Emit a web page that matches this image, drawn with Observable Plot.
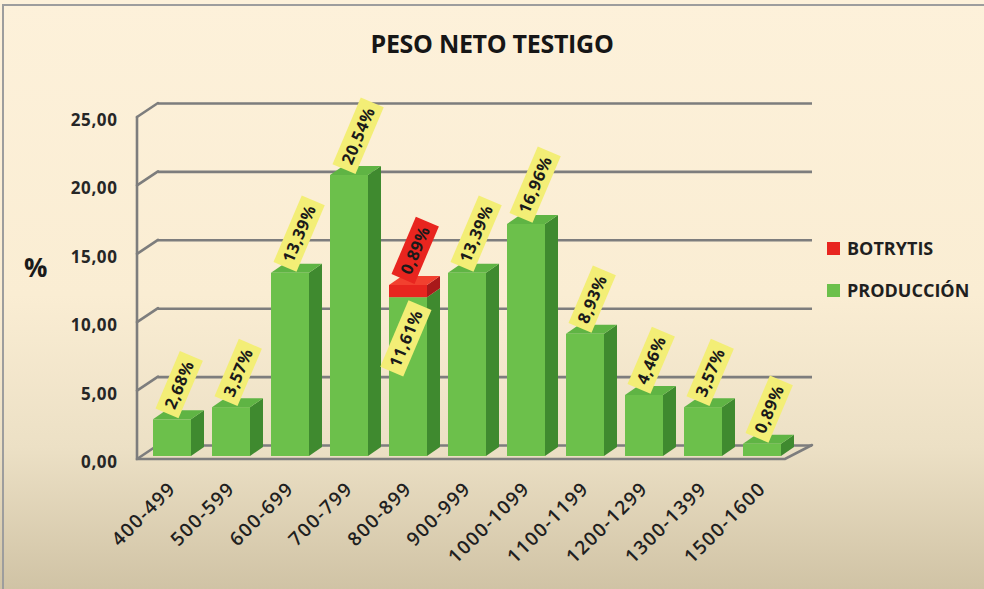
<!DOCTYPE html>
<html>
<head>
<meta charset="utf-8">
<script src="https://cdn.jsdelivr.net/npm/d3@7"></script>
<script src="https://cdn.jsdelivr.net/npm/@observablehq/plot@0.6"></script>
<style>
html, body { margin: 0; padding: 0; }
body { width: 984px; height: 589px; overflow: hidden; font-family: "Open Sans", sans-serif; }
#wrap { position: relative; width: 984px; height: 589px;
  background: linear-gradient(to bottom, #fdf1da 0%, #faedd3 50%, #ece0c5 76%, #d0c3a5 100%); }
#frame { position: absolute; left: 2px; top: 4px; right: 0; bottom: 0; border-top: 2px solid #9d9d9d; border-left: 2px solid #9d9d9d; pointer-events: none; }
#chart { position: absolute; left: 0; top: 0; }
#title { position: absolute; left: 0; width: 984px; top: 31px; line-height: 25px; text-align: center;
  font-weight: 700; font-size: 25px; color: #161616; letter-spacing: -0.3px; }
#ylab { position: absolute; left: 24px; top: 254px; line-height: 26px; font-size: 26px; font-weight: 700; color: #1a1a1a; }
.leg { position: absolute; left: 827px; height: 18px; }
.leg .sw { position: absolute; left: 0; width: 13px; height: 13px; }
.leg .tx { position: absolute; left: 20px; top: -3px; line-height: 18px; font-size: 18px; font-weight: 700; color: #1f1f1f; white-space: nowrap; }
svg g[aria-label="x-axis tick label"] text { letter-spacing: 1.4px; }
svg g[aria-label="y-axis tick label"] text { letter-spacing: 0.6px; }
</style>
</head>
<body>
<div id="wrap">
  <div id="chart"></div>
  <div id="title">PESO NETO TESTIGO</div>
  <div id="ylab">%</div>
  <div id="legend"></div>
  <div id="frame"></div>
</div>
<script>
// ---- data ----
const categories = ["400-499", "500-599", "600-699", "700-799", "800-899", "900-999",
  "1000-1099", "1100-1199", "1200-1299", "1300-1399", "1500-1600"];
const produccion = [2.68, 3.57, 13.39, 20.54, 11.61, 13.39, 16.96, 8.93, 4.46, 3.57, 0.89];
const botrytis   = [0, 0, 0, 0, 0.89, 0, 0, 0, 0, 0, 0];
const yTicks = [0, 5, 10, 15, 20, 25];
const seriesNames = ["BOTRYTIS", "PRODUCCIÓN"];
const seriesFront = ["#e8251f", "#6cc04b"];
const seriesSide  = ["#a8191a", "#3f8a2f"];
const seriesTop   = ["#f2402f", "#5fb444"];
const labelBoxes  = ["#e8251f", "#f3ee76"];

// ---- constants for the 3D look ----
const PAD_INNER = 0.358;
const DEPTH_X = 13, DEPTH_Y = -9;      // bar depth
const WALL_X = 18, WALL_Y = -14;       // wall depth
const BAR_OFF = -3;                    // bars sit slightly back
const GRID = "#7d7d7d";
const ANG = -67;

const fmt = v => v.toFixed(2).replace(".", ",");

// rows built from the arrays
const rows = [];
categories.forEach((c, i) => {
  const p = produccion[i], b = botrytis[i];
  rows.push({cat: c, s: 1, y1: 0, y2: p, label: fmt(p) + "%", capped: b > 0, inside: b > 0});
  if (b > 0) rows.push({cat: c, s: 0, y1: p, y2: p + b, label: fmt(b) + "%", capped: false, inside: false});
});

const bwOf = x => typeof x.bandwidth === "function" ? x.bandwidth()
  : (x(categories[1]) - x(categories[0])) * (1 - PAD_INNER);

function walls(index, scales, values, dims) {
  const y = scales.y;
  const xl = dims.marginLeft - 3;
  const xr = dims.width - dims.marginRight - 9;
  const y0 = y(0);
  const g = d3.create("svg:g").attr("fill", "none").attr("stroke", GRID).attr("stroke-width", 2.6)
    .attr("stroke-linecap", "round");
  g.append("path").attr("d", `M${xl},${y(d3.max(yTicks))}V${y0}H${xr}L${dims.width - dims.marginRight + WALL_X},${y0 + WALL_Y}`);
  for (const t of yTicks) {
    g.append("path").attr("d", `M${xl},${y(t)}L${dims.marginLeft + WALL_X},${y(t) + WALL_Y}`);
  }
  return g.node();
}

function faces(index, scales) {
  const x = scales.x, y = scales.y, bw = bwOf(x);
  const g = d3.create("svg:g");
  for (const r of rows) {
    const x0 = x(r.cat), x1 = x0 + bw;
    const ya = y(r.y1) + BAR_OFF, yb = y(r.y2) + BAR_OFF;
    g.append("path").attr("fill", seriesSide[r.s])
      .attr("d", `M${x1},${ya}L${x1 + DEPTH_X},${ya + DEPTH_Y}L${x1 + DEPTH_X},${yb + DEPTH_Y}L${x1},${yb}Z`);
    if (!r.capped) {
      g.append("path").attr("fill", seriesTop[r.s])
        .attr("d", `M${x0},${yb}L${x0 + DEPTH_X},${yb + DEPTH_Y}L${x1 + DEPTH_X},${yb + DEPTH_Y}L${x1},${yb}Z`);
    }
  }
  return g.node();
}

function labels(index, scales) {
  const x = scales.x, y = scales.y, bw = bwOf(x);
  const g = d3.create("svg:g").attr("class", "vlabels");
  for (const r of rows) {
    const lg = g.append("g").attr("class", "vl")
      .attr("data-xc", x(r.cat) + bw / 2).attr("data-yt", y(r.y2)).attr("data-inside", r.inside ? 1 : 0);
    lg.append("rect").attr("fill", labelBoxes[r.s]);
    lg.append("text").text(r.label).attr("text-anchor", "middle").attr("dy", "0.36em")
      .attr("font-size", 16.5).attr("font-weight", 700).attr("fill", "#1a1a1a")
      .attr("letter-spacing", "0.5px").attr("font-family", "Open Sans");
  }
  return g.node();
}

// front faces table
const fronts = rows.map(r => ({cat: r.cat, y1: r.y1, y2: r.y2, series: seriesNames[r.s]}));

const chart = Plot.plot({
  width: 984,
  height: 589,
  marginTop: 117,
  marginBottom: 130,
  marginLeft: 140,
  marginRight: 190,
  style: {background: "transparent", fontFamily: "Open Sans", color: "#222"},
  x: {type: "band", domain: categories, paddingInner: PAD_INNER, paddingOuter: 0.2, label: null},
  y: {domain: [0, 25], label: null},
  color: {domain: seriesNames, range: seriesFront},
  marks: [
    Plot.ruleY(yTicks, {y: d => d, dx: WALL_X, dy: WALL_Y, stroke: GRID, strokeWidth: 2.6}),
    walls,
    Plot.barY(fronts, {x: "cat", y1: "y1", y2: "y2", fill: "series", dy: BAR_OFF}),
    faces,
    labels,
    Plot.axisY({ticks: yTicks, tickFormat: fmt, tickSize: 0, tickPadding: 23, dy: 3,
      fontSize: 17, fontWeight: "bold", fill: "#262626"}),
    Plot.axisX({tickSize: 0, tickPadding: 26, tickRotate: -45, fontSize: 19, fontWeight: 600, fill: "#1f1f1f"})
  ]
});
document.getElementById("chart").appendChild(chart);

// size and place the value label boxes once the text can be measured
const rad = ANG * Math.PI / 180, cx = Math.cos(rad), cy = Math.sin(rad);
chart.querySelectorAll("g.vl").forEach(node => {
  const xc = +node.dataset.xc, yt = +node.dataset.yt, inside = node.dataset.inside === "1";
  const t = node.querySelector("text");
  const L = t.getComputedTextLength() + 12, H = 25;
  let px, py, c;
  if (inside) { px = xc + 12; py = yt + 5; c = [px - L / 2 * cx, py - L / 2 * cy]; }
  else { px = xc - 5; py = yt - 9; c = [px + L / 2 * cx, py + L / 2 * cy]; }
  node.setAttribute("transform", `translate(${c[0]},${c[1]}) rotate(${ANG})`);
  const rect = node.querySelector("rect");
  rect.setAttribute("x", -L / 2); rect.setAttribute("y", -H / 2);
  rect.setAttribute("width", L); rect.setAttribute("height", H);
});

// legend
const leg = document.getElementById("legend");
[[0, 242], [1, 284]].forEach(([i, top]) => {
  const d = document.createElement("div");
  d.className = "leg"; d.style.top = top + "px";
  d.innerHTML = `<div class="sw" style="background:${seriesFront[i]}"></div><div class="tx">${seriesNames[i]}</div>`;
  leg.appendChild(d);
});
</script>
</body>
</html>
